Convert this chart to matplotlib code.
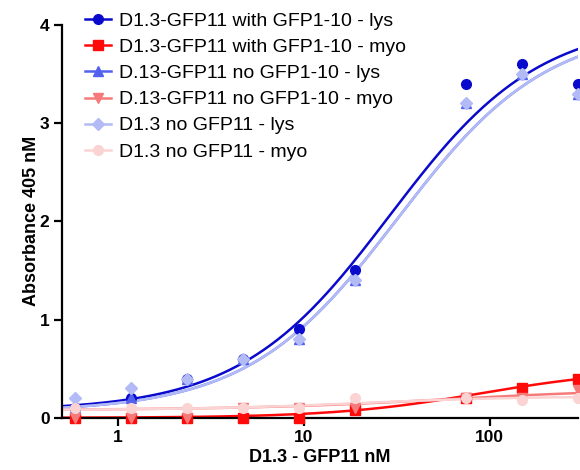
import matplotlib
matplotlib.use('Agg')
from matplotlib import pyplot as plt
import numpy as np

plt.rcParams['font.family'] = ['Liberation Sans', 'DejaVu Sans']

# concentrations (nM), 2-fold dilutions (37.5 nM missing)
conc = [0.586, 1.17, 2.34, 4.69, 9.375, 18.75, 75, 150, 300]

labels = ['D1.3-GFP11 with GFP1-10 - lys',
          'D1.3-GFP11 with GFP1-10 - myo',
          'D.13-GFP11 no GFP1-10 - lys',
          'D.13-GFP11 no GFP1-10 - myo',
          'D1.3 no GFP11 - lys',
          'D1.3 no GFP11 - myo']

with_lys = [0.1, 0.2, 0.4, 0.6, 0.9, 1.5, 3.4, 3.6, 3.4]
with_myo = [0.0, 0.0, 0.0, 0.0, 0.0, 0.08, 0.2, 0.3, 0.4]
no1_lys = [0.1, 0.2, 0.4, 0.6, 0.8, 1.4, 3.2, 3.5, 3.3]
no1_myo = [0.0, 0.0, 0.0, 0.1, 0.1, 0.1, 0.2, 0.2, 0.28]
no11_lys = [0.2, 0.3, 0.4, 0.6, 0.8, 1.4, 3.2, 3.5, 3.3]
no11_myo = [0.1, 0.1, 0.1, 0.1, 0.1, 0.2, 0.2, 0.18, 0.2]

# 4-parameter fits: bottom, top, EC50, hill
fit_with_lys = [0.07, 4.05, 29, 1.08]
fit_with_myo = [0.0, 0.5, 90, 1.1]
fit_no1_lys = [0.06, 4.0, 32, 1.08]
fit_no1_myo = [0.08, 0.30, 60, 0.8]
fit_no11_lys = [0.06, 4.0, 32, 1.08]
fit_no11_myo = [0.08, 0.22, 20, 1.0]

series = [with_lys, with_myo, no1_lys, no1_myo, no11_lys, no11_myo]
fits = [fit_with_lys, fit_with_myo, fit_no1_lys, fit_no1_myo, fit_no11_lys, fit_no11_myo]
colors = ['#0a0acc', '#ff0a0a', '#5262ee', '#f67a7a', '#b3bbf7', '#fbd3d3']
markers = ['o', 's', '^', 'v', 'D', 'o']
msizes = [7, 7, 7, 7, 6.5, 7]


def hill(x, bottom, top, ec50, h):
    return bottom + (top - bottom) / (1 + (ec50 / x) ** h)


fig = plt.figure(figsize=(5.8, 4.7), dpi=100)
ax = fig.add_axes([0.107, 0.111, 0.890, 0.836])

xs = np.logspace(np.log10(0.5), np.log10(300), 300)
for ys, p, c, m, ms, lab in zip(series, fits, colors, markers, msizes, labels):
    ax.plot(xs, hill(xs, *p), color=c, lw=1.8, zorder=2)
    ax.plot(conc, ys, linestyle='none', marker=m, ms=ms, color=c,
            clip_on=False, zorder=3)
    ax.plot([], [], color=c, lw=1.8, marker=m, ms=ms, label=lab)

ax.set_xscale('log')
ax.set_xlim(0.5, 300)
ax.set_ylim(0, 4)
ax.set_xticks([1, 10, 100])
ax.set_xticklabels(['1', '10', '100'])
ax.xaxis.set_minor_locator(matplotlib.ticker.NullLocator())
ax.set_yticks([0, 1, 2, 3, 4])

for s in ['top', 'right']:
    ax.spines[s].set_visible(False)
for s in ['left', 'bottom']:
    ax.spines[s].set_linewidth(1.6)
ax.tick_params(width=1.6, length=6, labelsize=12.5, pad=3)
for t in ax.get_xticklabels() + ax.get_yticklabels():
    t.set_fontweight('bold')

ax.set_xlabel('D1.3 - GFP11 nM', fontsize=13, fontweight='bold', labelpad=3)
ax.set_ylabel('Absorbance 405 nM', fontsize=13, fontweight='bold', labelpad=0)

fig.legend(loc='upper left', bbox_to_anchor=(0.147, 0.974), frameon=False,
           fontsize=14, handlelength=1.3, handletextpad=0.42,
           labelspacing=0.44, borderpad=0, borderaxespad=0)

fig.savefig('out.png', dpi=100)
